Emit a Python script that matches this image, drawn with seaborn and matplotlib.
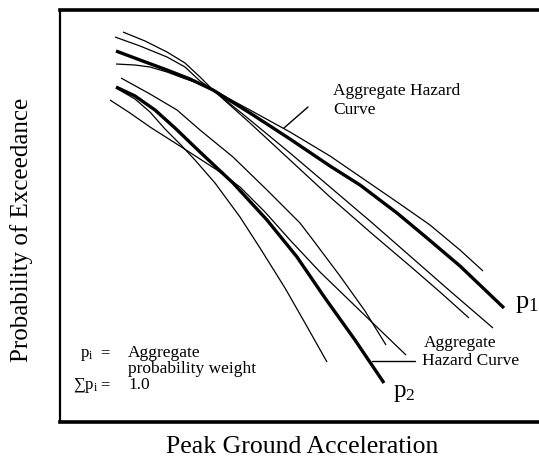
import matplotlib
matplotlib.use("Agg")
import matplotlib.pyplot as plt
import seaborn as sns
import pandas as pd

# Hazard curves, read in plot units (acceleration to the right, exceedance upward)
# Upper family: thick branch p1 with its alternatives
a1_x = [63, 85, 107, 125, 140, 153, 190, 230, 270, 310, 350, 380, 409]
a1_y = [390, 381, 370, 359, 345, 332, 299, 262, 225, 190, 156, 130, 104]
a2_x = [55, 80, 107, 125, 140, 153, 190, 230, 270, 310, 350, 390, 433]
a2_y = [385, 376, 365, 355, 341, 332, 302, 269, 235, 201, 166, 131, 94]
p1_x = [56, 80, 107, 130, 153, 190, 230, 270, 300, 337, 367, 400, 422, 444]
p1_y = [371, 362, 352, 343, 332, 309, 283, 256, 237, 209, 184, 156, 135, 114]
a3_x = [56, 75, 90, 107, 123, 140, 153, 190, 230, 270, 305, 340, 370, 400, 423]
a3_y = [358, 357, 355, 350, 344, 338, 332, 312, 290, 266, 242, 218, 197, 172, 151]

# Lower family: thick branch p2 with its alternatives
b1_x = [61, 90, 117, 140, 173, 207, 240, 253, 280, 305, 326]
b1_y = [344, 328, 312, 292, 265, 232, 199, 182, 146, 111, 77]
p2_x = [56, 75, 95, 115, 140, 173, 207, 237, 265, 295, 324]
p2_y = [335, 326, 312, 294, 270, 239, 202, 165, 124, 82, 39]
b2_x = [50, 70, 90, 123, 157, 180, 205, 230, 260, 290, 320, 346]
b2_y = [322, 309, 295, 274, 252, 235, 210, 182, 150, 121, 92, 67]
b3_x = [56, 75, 90, 105, 120, 135, 155, 180, 200, 225, 245, 267]
b3_y = [334, 323, 310, 293, 278, 262, 239, 205, 174, 134, 99, 60]

curves = {
    "a1": (a1_x, a1_y), "a2": (a2_x, a2_y), "p1": (p1_x, p1_y), "a3": (a3_x, a3_y),
    "b1": (b1_x, b1_y), "p2": (p2_x, p2_y), "b2": (b2_x, b2_y), "b3": (b3_x, b3_y),
}
thick = {"p1", "p2"}

frames = []
for name, (xs, ys) in curves.items():
    frames.append(pd.DataFrame({"pga": xs, "poe": ys, "curve": name}))
df = pd.concat(frames, ignore_index=True)

sns.set_theme(style="white")
plt.rcParams["font.family"] = ["Liberation Serif", "DejaVu Serif"]
plt.rcParams["mathtext.fontset"] = "custom"
plt.rcParams["mathtext.rm"] = "Liberation Serif"
plt.rcParams["mathtext.it"] = "Liberation Serif:italic"

fig = plt.figure(figsize=(5.39, 4.66), dpi=100)
ax = fig.add_axes([60 / 539, 44 / 466, 480 / 539, 412 / 466])

for name in curves:
    sub = df[df["curve"] == name]
    sns.lineplot(data=sub, x="pga", y="poe", ax=ax, sort=False, estimator=None,
                 color="black", lw=2.4 if name in thick else 0.9,
                 solid_capstyle="butt", solid_joinstyle="round")

ax.set_xlim(0, 480)
ax.set_ylim(0, 412)
ax.set_xticks([])
ax.set_yticks([])

for side in ("top", "bottom"):
    ax.spines[side].set_linewidth(2.6)
    ax.spines[side].set_color("black")
ax.spines["left"].set_linewidth(1.6)
ax.spines["left"].set_color("black")
ax.spines["right"].set_visible(False)

ax.set_xlabel("Peak Ground Acceleration", fontsize=18.5, color="black")
ax.set_ylabel("Probability of Exceedance", fontsize=18, color="black")
ax.xaxis.set_label_coords(0.504, -0.035)
ax.yaxis.set_label_coords(-0.056, 0.466)

txt = dict(color="black", va="baseline", ha="left")
# upper aggregate label with leader
ax.text(273, 327, "Aggregate Hazard", fontsize=12.5, **txt)
ax.text(273, 308, "Curve", fontsize=12.5, **txt)
ax.plot([248, 224], [315, 294], color="black", lw=1.0)

# lower aggregate label with leader
ax.text(364, 75, "Aggregate", fontsize=12.5, **txt)
ax.text(362, 57, "Hazard Curve", fontsize=12.5, **txt)
ax.plot([312, 355], [61, 61], color="black", lw=1.0)

# branch weights
ax.text(455, 114, r"p$_1$", fontsize=19, **txt)
ax.text(333, 25, r"p$_2$", fontsize=18, **txt)

# note on weights
ax.text(20, 65, r"p$_\mathrm{i}$", fontsize=12, **txt)
ax.text(40, 65, "=", fontsize=12, **txt)
ax.text(68, 65, "Aggregate", fontsize=12.5, **txt)
ax.text(68, 49, "probability weight", fontsize=12.5, **txt)
ax.text(13, 33, "\u2211p$_\\mathrm{i}$", fontsize=12, **txt)
ax.text(40, 33, "=", fontsize=12, **txt)
ax.text(68, 33, "1.0", fontsize=12.5, **txt)

fig.savefig("out.png", dpi=100, facecolor="white")
